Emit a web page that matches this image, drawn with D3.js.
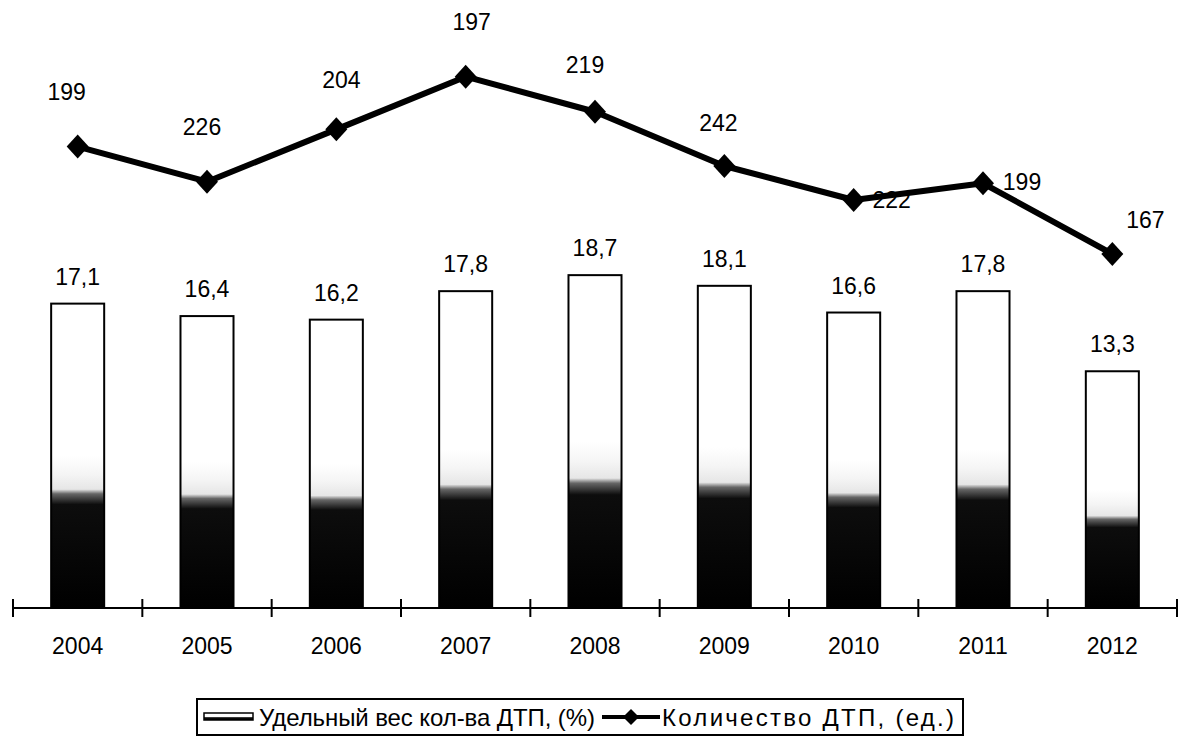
<!DOCTYPE html>
<html>
<head>
<meta charset="utf-8">
<script src="https://cdn.jsdelivr.net/npm/d3@7"></script>
<style>
    body { margin: 0; background: #fff; }
    text { font-family: "Liberation Sans", Arial, sans-serif; fill: #000; }
</style>
</head>
<body>
<div id="chart"></div>
<script>

// Data
var years = ["2004", "2005", "2006", "2007", "2008", "2009", "2010", "2011", "2012"];
var sharePct = [17.1, 16.4, 16.2, 17.8, 18.7, 18.1, 16.6, 17.8, 13.3];
var accidentCount = [199, 226, 204, 197, 219, 242, 222, 199, 167];
// level at which the line is drawn (same axis as bars)
var lineLevel = [25.92, 23.95, 26.89, 29.85, 27.88, 24.83, 22.92, 23.86, 19.89];
var legendNames = ["Удельный вес кол-ва ДТП, (%)", "Количество ДТП, (ед.)"];

// label nudges for the line labels (layout only)
var lineLabelShift = [[-11, -55], [-5, -55], [5, -50], [6, -55], [-10, -47], [-6, -43], [38, 0], [39, -2], [33, -34]];

var width = 1188, height = 742;

var svg = d3.select("#chart").append("svg")
    .attr("width", width)
    .attr("height", height);

var defs = svg.append("defs");
var grad = defs.append("linearGradient")
    .attr("id", "barFill")
    .attr("x1", 0).attr("y1", 0).attr("x2", 0).attr("y2", 1);
[["0", "#ffffff"], ["0.5", "#ffffff"], ["0.56", "#f5f5f5"], ["0.61", "#e6e6e6"],
 ["0.625", "#666"], ["0.66", "#0d0d0d"], ["1", "#000"]].forEach(function(s) {
    grad.append("stop").attr("offset", s[0]).attr("stop-color", s[1]);
});

var x = d3.scaleBand()
    .domain(years)
    .range([13, 1177])
    .paddingInner(0)
    .paddingOuter(0);

var y = d3.scaleLinear()
    .domain([0, 30])
    .range([608, 608 - 17.8 * 30]);

var barW = x.bandwidth() * 0.41;
var fmt = function(v) { return d3.format(".1f")(v).replace(".", ","); };

// Bars
svg.selectAll(".bar")
    .data(sharePct)
    .enter().append("rect")
    .attr("class", "bar")
    .attr("x", function(d, i) { return x(years[i]) + x.bandwidth() / 2 - barW / 2; })
    .attr("y", function(d) { return y(d); })
    .attr("width", barW)
    .attr("height", function(d) { return y(0) - y(d); })
    .style("fill", "url(#barFill)")
    .style("stroke", "#000")
    .style("stroke-width", 2);

svg.selectAll(".barLabel")
    .data(sharePct)
    .enter().append("text")
    .attr("x", function(d, i) { return x(years[i]) + x.bandwidth() / 2; })
    .attr("y", function(d) { return y(d) - 19; })
    .attr("text-anchor", "middle")
    .style("font-size", "23px")
    .text(fmt);

// Axis
var axis = svg.append("g");
axis.append("line")
    .attr("x1", 13).attr("x2", 1177)
    .attr("y1", y(0)).attr("y2", y(0))
    .style("stroke", "#000").style("stroke-width", 2);

var tickX = years.map(function(d) { return x(d); }).concat([x(years[years.length - 1]) + x.bandwidth()]);
axis.selectAll(".tick")
    .data(tickX)
    .enter().append("line")
    .attr("x1", function(d) { return d; })
    .attr("x2", function(d) { return d; })
    .attr("y1", y(0) - 9)
    .attr("y2", y(0) + 9)
    .style("stroke", "#000").style("stroke-width", 2);

axis.selectAll(".yearLabel")
    .data(years)
    .enter().append("text")
    .attr("x", function(d) { return x(d) + x.bandwidth() / 2; })
    .attr("y", 654)
    .attr("text-anchor", "middle")
    .style("font-size", "23px")
    .text(function(d) { return d; });

// Line
var line = d3.line()
    .x(function(d, i) { return x(years[i]) + x.bandwidth() / 2; })
    .y(function(d) { return y(d); });

svg.append("path")
    .datum(lineLevel)
    .attr("d", line)
    .style("fill", "none")
    .style("stroke", "#000")
    .style("stroke-width", 6)
    .style("stroke-linejoin", "round");

var diamond = "M 0 -12 L 11 0 L 0 12 L -11 0 Z";

svg.selectAll(".marker")
    .data(lineLevel)
    .enter().append("path")
    .attr("d", diamond)
    .attr("transform", function(d, i) {
        return "translate(" + (x(years[i]) + x.bandwidth() / 2) + "," + y(d) + ")";
    })
    .style("fill", "#000");

svg.selectAll(".lineLabel")
    .data(accidentCount)
    .enter().append("text")
    .attr("x", function(d, i) { return x(years[i]) + x.bandwidth() / 2 + lineLabelShift[i][0]; })
    .attr("y", function(d, i) { return y(lineLevel[i]) + lineLabelShift[i][1]; })
    .attr("dy", "0.36em")
    .attr("text-anchor", "middle")
    .style("font-size", "23px")
    .text(function(d) { return d; });

// Legend
var legend = svg.append("g");
legend.append("rect")
    .attr("x", 197).attr("y", 699)
    .attr("width", 766)
    .attr("height", 36)
    .style("fill", "#fff")
    .style("stroke", "#000")
    .style("stroke-width", 2);

legend.append("rect")
    .attr("x", 204).attr("y", 713)
    .attr("width", 49).attr("height", 7)
    .style("fill", "url(#barFill)")
    .style("stroke", "#000")
    .style("stroke-width", 1.5);

legend.append("text")
    .attr("x", 259).attr("y", 717)
    .attr("dy", "0.36em")
    .attr("textLength", 336)
    .attr("lengthAdjust", "spacing")
    .style("font-size", "24px")
    .text(legendNames[0]);

legend.append("line")
    .attr("x1", 602).attr("x2", 660)
    .attr("y1", 717).attr("y2", 717)
    .style("stroke", "#000").style("stroke-width", 4);

legend.append("path")
    .attr("d", "M 0 -8 L 8 0 L 0 8 L -8 0 Z")
    .attr("transform", "translate(631,717)")
    .style("fill", "#000");

legend.append("text")
    .attr("x", 662).attr("y", 717)
    .attr("dy", "0.36em")
    .attr("textLength", 292)
    .attr("lengthAdjust", "spacing")
    .style("font-size", "24px")
    .text(legendNames[1]);

</script>
</body>
</html>
